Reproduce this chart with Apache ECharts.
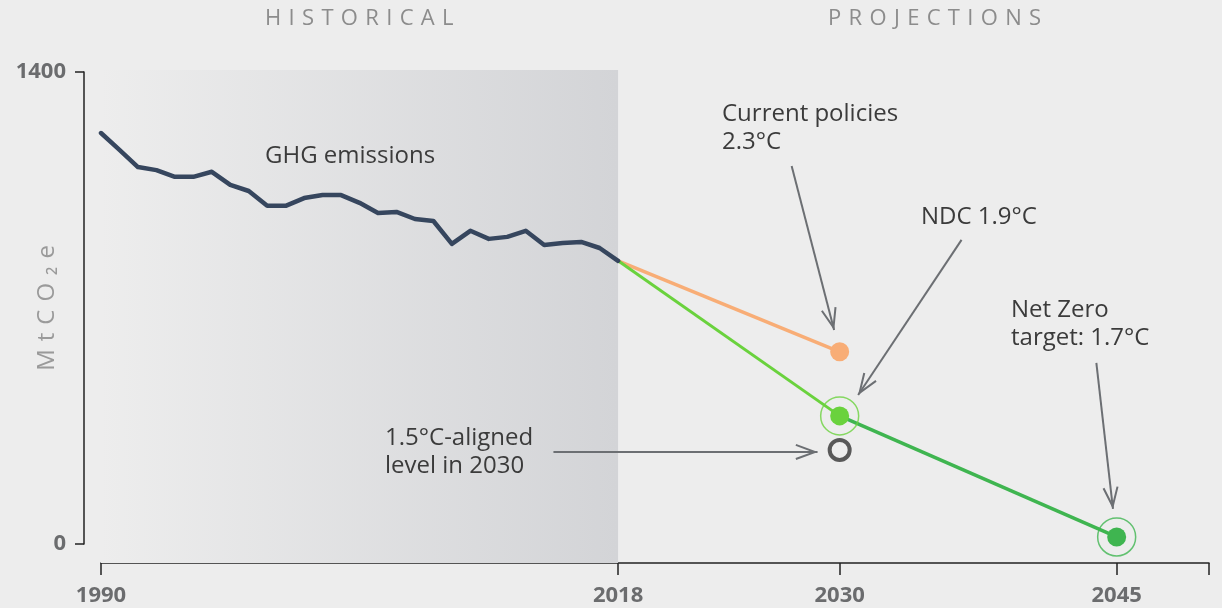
<!DOCTYPE html>
<html>
<head>
<meta charset="utf-8">
<script src="https://cdn.jsdelivr.net/npm/echarts@6/dist/echarts.min.js"></script>
<style>
  html, body { margin: 0; padding: 0; background: #ededed; }
  #chart { width: 1222px; height: 608px; }
</style>
</head>
<body>
<div id="chart"></div>
<script>
// historical GHG emissions, MtCO2e
const years = [1990, 1991, 1992, 1993, 1994, 1995, 1996, 1997, 1998, 1999,
  2000, 2001, 2002, 2003, 2004, 2005, 2006, 2007, 2008, 2009,
  2010, 2011, 2012, 2013, 2014, 2015, 2016, 2017, 2018]
const emissions = [1219, 1169, 1118, 1109, 1089, 1089, 1104, 1065, 1047, 1003,
  1003, 1026, 1035, 1035, 1012, 982, 985, 964, 958, 890,
  929, 905, 911, 929, 887, 893, 896, 878, 840]

// projections
const currentPolicies = [[2018, 840], [2030, 570]]
const ndc = [[2018, 840], [2030, 380]]
const netZero = [[2030, 380], [2045, 21]]
const aligned15 = [[2030, 279]]

const xTicks = [1990, 2018, 2030, 2045, 2050]
const xLabels = [1990, 2018, 2030, 2045]
const historicalSpan = [1990, 2018]

// annotation arrows [start, tip] in data coordinates
const arrows = [
  [[2027.4, 1121], [2029.7, 635]],
  [[2036.6, 902], [2031.0, 442]],
  [[2043.9, 537], [2044.8, 104]],
  [[2014.5, 273], [2028.8, 273]]
]

const chart = echarts.init(document.getElementById('chart'))

// open chevron, tip in the middle of its box
const chevron = 'path://M0,0 L0.01,0 L0,0.01 Z M44,0 L43.99,0 L44,0.01 Z ' +
  'M22,22 L30,44 L28.1,44.7 L22,27.8 L15.9,44.7 L14,44 Z'

const txtColor = '#3b3b3b'
const font = '"Open Sans", Lato, sans-serif'
const sp = '\u2004'

function note(left, top, text) {
  return {
    type: 'text', left, top, silent: true, z: 100,
    style: { text, fill: txtColor, font: '24px ' + font, lineHeight: 28 }
  }
}

function spaced(s) {
  return s.split('').join(sp)
}

const tickLabel = {
  color: '#6b6c6e', fontWeight: 'bold', fontSize: 22, fontFamily: '"Open Sans", sans-serif'
}

chart.setOption({
  backgroundColor: '#ededed',
  animation: false,
  grid: [
    { left: 101, right: 13, top: 72, bottom: 64, outerBoundsMode: 'none', containLabel: false },
    // taller grid only for the historical shading
    { left: 101, right: 13, top: 70, bottom: 45, outerBoundsMode: 'none', containLabel: false }
  ],
  xAxis: [
    {
      type: 'value', min: 1990, max: 2050, offset: 19,
      splitLine: { show: false },
      axisLine: { onZero: false, lineStyle: { color: '#222', width: 1.5 } },
      axisTick: { customValues: xTicks, length: 12, lineStyle: { color: '#222', width: 1.5 } },
      axisLabel: Object.assign({ customValues: xLabels, margin: 22, formatter: v => String(v) }, tickLabel)
    },
    { type: 'value', gridIndex: 1, min: 1990, max: 2050, show: false }
  ],
  yAxis: [
    {
      type: 'value', min: 0, max: 1400, interval: 1400, offset: 17,
      name: spaced('MtCO\u2082e'), nameLocation: 'middle', nameRotate: 90, nameGap: 25,
      nameMoveOverlap: false,
      nameTextStyle: { color: '#9a9a9a', fontSize: 24, fontFamily: font },
      splitLine: { show: false },
      axisLine: { show: true, onZero: false, lineStyle: { color: '#222', width: 1.5 } },
      axisTick: { show: true, length: 9, lineStyle: { color: '#222', width: 1.5 } },
      axisLabel: Object.assign({ margin: 18, formatter: v => String(v) }, tickLabel)
    },
    { type: 'value', gridIndex: 1, min: 0, max: 1, show: false }
  ],
  graphic: [
    {
      type: 'text', left: 265, top: 8, silent: true, z: 100,
      style: { text: spaced('HISTORICAL'), fill: '#8c8c8c', font: '22px ' + font }
    },
    {
      type: 'text', left: 828, top: 8, silent: true, z: 100,
      style: { text: spaced('PROJECTIONS'), fill: '#8c8c8c', font: '22px ' + font }
    },
    note(265, 142, 'GHG emissions'),
    note(722, 100, 'Current policies\n2.3°C'),
    note(921, 203, 'NDC 1.9°C'),
    note(1011, 296, 'Net Zero\ntarget: 1.7°C'),
    note(385, 424, '1.5°C-aligned\nlevel in 2030')
  ],
  series: [
    {
      // historical shading
      type: 'line', data: [], xAxisIndex: 1, yAxisIndex: 1, silent: true, z: 0,
      markArea: {
        silent: true,
        itemStyle: {
          color: {
            type: 'linear', x: 0, y: 0, x2: 1, y2: 0,
            colorStops: [{ offset: 0, color: '#ededed' }, { offset: 1, color: '#d3d4d7' }]
          }
        },
        data: [[{ xAxis: historicalSpan[0], yAxis: 1 }, { xAxis: historicalSpan[1], yAxis: 0 }]]
      }
    },
    {
      name: 'Current policies', type: 'line',
      data: currentPolicies.map((d, i) => i === 0 ? { value: d, symbol: 'none' } : d),
      symbol: 'circle', symbolSize: 19,
      lineStyle: { color: '#f8ad76', width: 3.5 }, itemStyle: { color: '#f8ad76' }
    },
    {
      name: 'NDC', type: 'line',
      data: ndc.map((d, i) => i === 0 ? { value: d, symbol: 'none' } : d),
      symbol: 'circle', symbolSize: 19,
      lineStyle: { color: '#6ad23d', width: 3 }, itemStyle: { color: '#6ad23d' }, z: 3
    },
    {
      name: 'Net Zero', type: 'line',
      data: netZero.map((d, i) => i === 0 ? { value: d, symbol: 'none' } : d),
      symbol: 'circle', symbolSize: 19,
      lineStyle: { color: '#3fb550', width: 3.5 }, itemStyle: { color: '#3fb550' }, z: 2
    },
    {
      type: 'scatter', data: [ndc[1]], symbolSize: 38, silent: true,
      itemStyle: { color: 'transparent', borderColor: '#6ad23d', borderWidth: 1.5 }
    },
    {
      type: 'scatter', data: [netZero[1]], symbolSize: 38, silent: true,
      itemStyle: { color: 'transparent', borderColor: '#3fb550', borderWidth: 1.5 }
    },
    {
      name: '1.5°C', type: 'scatter', data: aligned15, symbolSize: 20, silent: true,
      itemStyle: { color: '#ededed', borderColor: '#333333', borderWidth: 4 },
      markLine: {
        silent: true, symbol: ['none', chevron], symbolSize: 44,
        label: { show: false },
        lineStyle: { color: '#6c6f73', width: 2, type: 'solid' },
        data: arrows.map(a => [{ coord: a[0] }, { coord: a[1] }])
      }
    },
    {
      name: 'GHG emissions', type: 'line',
      data: years.map((y, i) => [y, emissions[i]]),
      showSymbol: false,
      lineStyle: { color: '#36465e', width: 4.5, cap: 'round', join: 'round' }, z: 4
    }
  ]
})

window.addEventListener('resize', () => chart.resize())
</script>
</body>
</html>
